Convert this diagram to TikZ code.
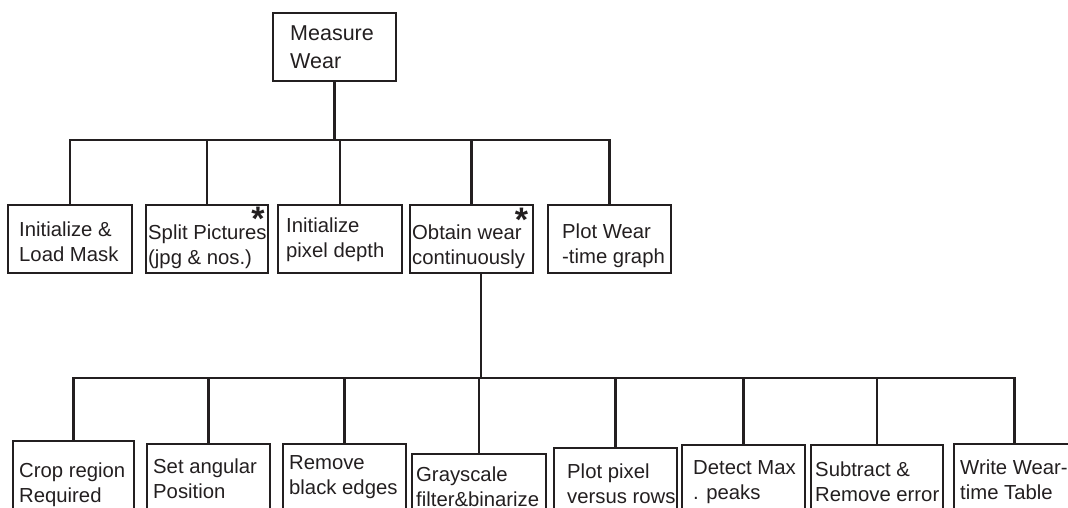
\documentclass[tikz,border=0pt]{standalone}
\usepackage{fontspec}
\setmainfont{Liberation Sans}
\definecolor{ink}{RGB}{35,31,32}
\begin{document}
\begin{tikzpicture}[x=1pt,y=-1pt,
  box/.style={draw=ink,line width=2.6pt,rectangle,inner sep=0pt,outer sep=0pt},
  wire/.style={draw=ink,line width=2.4pt},
  lbl/.style={text=ink,inner sep=0pt,align=left,anchor=base west,
    font=\fontsize{20.3}{25}\selectfont},
  star/.style={text=ink,inner sep=0pt,anchor=north,
    font=\fontsize{34}{34}\selectfont\bfseries}]
\useasboundingbox (0,0) rectangle (1068,507);
\clip (0,0) rectangle (1068,507);

% root (label anchors are at the baseline of the last line)
\node[box,minimum width=123pt,minimum height=68pt] (root) at (334.5,47) {};
\node[lbl,font=\fontsize{21.5}{28}\selectfont] (root-t) at (290,68) {Measure\\Wear};

% second level: boxes spanning y = 205 .. 273
\node[box,minimum width=124pt,minimum height=68pt] (a1) at (70,239) {};
\node[box,minimum width=122pt,minimum height=68pt] (a2) at (207,239) {};
\node[box,minimum width=124pt,minimum height=68pt] (a3) at (340,239) {};
\node[box,minimum width=123pt,minimum height=68pt] (a4) at (471.5,239) {};
\node[box,minimum width=123pt,minimum height=68pt] (a5) at (609.5,239) {};

\node[lbl] (a1-t) at (19,261) {Initialize \&\\Load Mask};
\node[lbl] (a2-t) at (148,264) {Split Pictures\\(jpg \& nos.)};
\node[lbl] (a3-t) at (286,257) {Initialize\\pixel depth};
\node[lbl] (a4-t) at (412,264) {Obtain wear\\continuously};
\node[lbl] (a5-t) at (562,263) {Plot Wear\\-time graph};
\node[star] (a2-s) at (258,207) {*};
\node[star] (a4-s) at (521.5,208) {*};

% third level: boxes run past the lower edge
\node[box,anchor=north west,minimum width=121pt,minimum height=90pt] (b1) at (13,441) {};
\node[box,anchor=north west,minimum width=123pt,minimum height=90pt] (b2) at (147,444) {};
\node[box,anchor=north west,minimum width=123pt,minimum height=90pt] (b3) at (283,444) {};
\node[box,anchor=north west,minimum width=134pt,minimum height=90pt] (b4) at (412,454) {};
\node[box,anchor=north west,minimum width=123pt,minimum height=90pt] (b5) at (554,448) {};
\node[box,anchor=north west,minimum width=123pt,minimum height=90pt] (b6) at (682,445) {};
\node[box,anchor=north west,minimum width=132pt,minimum height=90pt] (b7) at (811,445) {};
\node[box,anchor=north west,minimum width=121pt,minimum height=90pt] (b8) at (954,444) {};

\node[lbl] (b1-t) at (19,502) {Crop region\\Required};
\node[lbl] (b2-t) at (153,498) {Set angular\\Position};
\node[lbl] (b3-t) at (289,494) {Remove\\black edges};
\node[lbl] (b4-t) at (416,506) {Grayscale\\filter\&binarize};
\node[lbl] (b5-t) at (567,503) {Plot pixel\\versus rows};
\node[lbl] (b6-t) at (693,499) {Detect Max\\. peaks};
\node[lbl] (b7-t) at (815,501) {Subtract \&\\Remove error};
\node[lbl] (b8-t) at (960,499) {Write Wear-\\time Table};

% connectors
\coordinate (busA) at (0,140);
\coordinate (busB) at (0,378);
\draw[wire] (root.south) -- (root.south |- busA);
\draw[wire] (a1.north) -- (a1.north |- busA) -- (a5.north |- busA) -- (a5.north);
\foreach \n in {a2,a3,a4} \draw[wire] (\n.north) -- (\n.north |- busA);

\coordinate (drop) at ([xshift=9.5pt]a4.south);
\draw[wire] (drop) -- (drop |- busB);
\draw[wire] (b1.north) -- (b1.north |- busB) -- (b8.north |- busB) -- (b8.north);
\foreach \n in {b2,b3,b4,b5,b6,b7} \draw[wire] (\n.north) -- (\n.north |- busB);
\end{tikzpicture}
\end{document}
